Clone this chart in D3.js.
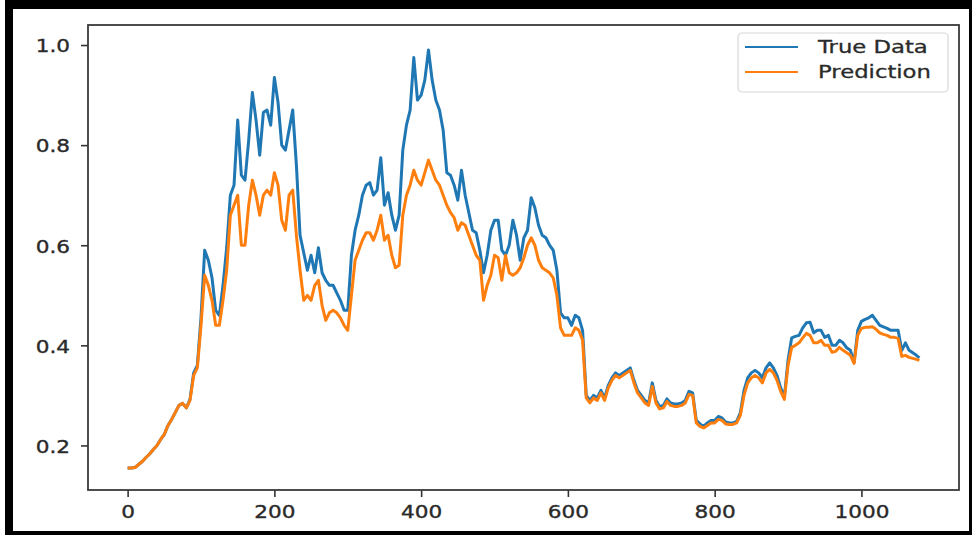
<!DOCTYPE html>
<html>
<head>
<meta charset="utf-8">
<script src="https://cdn.jsdelivr.net/npm/d3@7/dist/d3.min.js"></script>
<style>
  html, body { margin: 0; padding: 0; background: #fff; }
  svg { display: block; }
  text { font-family: "DejaVu Sans", sans-serif; }
</style>
</head>
<body>
<svg id="chart" width="972" height="535"></svg>
<script>
// ---- Data ----
const xIndex = d3.range(0, 1076, 5).concat([1079]);

const trueData = [
  0.155, 0.155, 0.156, 0.162, 0.168, 0.176, 0.183, 0.192, 0.200, 0.212,
  0.222, 0.240, 0.252, 0.266, 0.280, 0.284, 0.275, 0.292, 0.345, 0.360,
  0.455, 0.590, 0.570, 0.535, 0.470, 0.460, 0.520, 0.595, 0.700, 0.720,
  0.850, 0.740, 0.730, 0.810, 0.905, 0.850, 0.780, 0.865, 0.870, 0.840,
  0.935, 0.885, 0.800, 0.790, 0.830, 0.870, 0.760, 0.620, 0.585, 0.550,
  0.580, 0.545, 0.595, 0.545, 0.530, 0.520, 0.520, 0.505, 0.490, 0.470,
  0.470, 0.580, 0.630, 0.660, 0.700, 0.720, 0.725, 0.700, 0.710, 0.775,
  0.680, 0.705, 0.660, 0.630, 0.660, 0.790, 0.840, 0.870, 0.975, 0.890,
  0.900, 0.930, 0.990, 0.930, 0.890, 0.870, 0.830, 0.745, 0.740, 0.720,
  0.690, 0.750, 0.700, 0.665, 0.630, 0.625, 0.590, 0.545, 0.580, 0.630,
  0.650, 0.650, 0.590, 0.580, 0.600, 0.650, 0.620, 0.570, 0.615, 0.630,
  0.695, 0.675, 0.640, 0.620, 0.615, 0.600, 0.590, 0.550, 0.465, 0.455,
  0.455, 0.440, 0.460, 0.455, 0.430, 0.300, 0.290, 0.300, 0.295, 0.310,
  0.295, 0.320, 0.335, 0.345, 0.340, 0.345, 0.350, 0.355, 0.330, 0.310,
  0.300, 0.290, 0.285, 0.325, 0.290, 0.278, 0.280, 0.293, 0.285, 0.283,
  0.283, 0.285, 0.290, 0.308, 0.305, 0.250, 0.243, 0.238, 0.245, 0.250,
  0.250, 0.258, 0.255, 0.247, 0.245, 0.245, 0.248, 0.265, 0.310, 0.335,
  0.345, 0.350, 0.345, 0.335, 0.355, 0.365, 0.355, 0.340, 0.315, 0.297,
  0.370, 0.415, 0.418, 0.420, 0.435, 0.445, 0.446, 0.425, 0.430, 0.430,
  0.416, 0.420, 0.400, 0.400, 0.410, 0.405, 0.395, 0.390, 0.366, 0.430,
  0.448, 0.452, 0.455, 0.460, 0.450, 0.440, 0.437, 0.434, 0.430, 0.430,
  0.430, 0.390, 0.405, 0.390, 0.385, 0.380,
  0.375
];

const prediction = [
  0.155, 0.155, 0.156, 0.162, 0.168, 0.176, 0.183, 0.192, 0.200, 0.212,
  0.222, 0.240, 0.252, 0.266, 0.280, 0.284, 0.275, 0.290, 0.340, 0.355,
  0.440, 0.540, 0.520, 0.490, 0.440, 0.440, 0.490, 0.550, 0.660, 0.680,
  0.700, 0.600, 0.600, 0.680, 0.730, 0.700, 0.660, 0.700, 0.710, 0.700,
  0.745, 0.720, 0.650, 0.630, 0.700, 0.710, 0.620, 0.550, 0.490, 0.500,
  0.490, 0.520, 0.530, 0.480, 0.450, 0.465, 0.470, 0.465, 0.455, 0.440,
  0.430, 0.500, 0.570, 0.590, 0.610, 0.625, 0.625, 0.610, 0.630, 0.660,
  0.610, 0.620, 0.580, 0.555, 0.560, 0.660, 0.700, 0.720, 0.750, 0.730,
  0.720, 0.745, 0.770, 0.750, 0.730, 0.720, 0.700, 0.680, 0.665, 0.655,
  0.630, 0.645, 0.640, 0.620, 0.600, 0.580, 0.570, 0.490, 0.520, 0.540,
  0.580, 0.575, 0.530, 0.580, 0.545, 0.540, 0.545, 0.555, 0.575, 0.600,
  0.615, 0.600, 0.570, 0.555, 0.550, 0.545, 0.535, 0.500, 0.435, 0.420,
  0.420, 0.420, 0.435, 0.430, 0.410, 0.295, 0.285, 0.295, 0.290, 0.305,
  0.290, 0.315, 0.330, 0.340, 0.335, 0.340, 0.345, 0.350, 0.325, 0.305,
  0.295, 0.285, 0.280, 0.318, 0.285, 0.273, 0.275, 0.288, 0.280, 0.278,
  0.278, 0.280, 0.285, 0.302, 0.300, 0.245, 0.238, 0.235, 0.240, 0.245,
  0.245, 0.252, 0.250, 0.243, 0.242, 0.242, 0.245, 0.260, 0.300, 0.325,
  0.335, 0.340, 0.335, 0.325, 0.345, 0.352, 0.345, 0.330, 0.308, 0.292,
  0.360, 0.396, 0.400, 0.405, 0.415, 0.424, 0.420, 0.405, 0.405, 0.410,
  0.400, 0.400, 0.386, 0.388, 0.396, 0.390, 0.385, 0.380, 0.364, 0.420,
  0.434, 0.436, 0.436, 0.437, 0.432, 0.425, 0.422, 0.420, 0.416, 0.416,
  0.414, 0.378, 0.380, 0.376, 0.374, 0.372,
  0.370
];

const seriesNames = ["True Data", "Prediction"];
const seriesColors = ["#1f77b4", "#ff7f0e"];
const xTicks = [0, 200, 400, 600, 800, 1000];
const yTicks = [0.2, 0.4, 0.6, 0.8, 1.0];

// ---- Layout ----
const svg = d3.select("#chart");
const W = 972, H = 535;
const plot = { left: 88, right: 959, top: 25, bottom: 490 };
const textScaleX = 1.2;
const textColor = "#2a2a2a";

svg.append("rect").attr("x", 0).attr("y", 0).attr("width", W).attr("height", H).attr("fill", "#fff");

const x = d3.scaleLinear().domain([-54, 1133]).range([plot.left, plot.right]);
const y = d3.scaleLinear().domain([0.111, 1.04]).range([plot.bottom, plot.top]);

// lines
const series = [trueData, prediction];
const lineGen = d3.line()
  .x((d, i) => x(xIndex[i]))
  .y(d => y(d));

svg.append("clipPath").attr("id", "plotclip")
  .append("rect").attr("x", plot.left).attr("y", plot.top)
  .attr("width", plot.right - plot.left).attr("height", plot.bottom - plot.top);

const lines = svg.append("g").attr("clip-path", "url(#plotclip)");
series.forEach((s, k) => {
  lines.append("path")
    .datum(s)
    .attr("d", lineGen)
    .attr("fill", "none")
    .attr("stroke", seriesColors[k])
    .attr("stroke-width", 3)
    .attr("stroke-linejoin", "round");
});

// axes
const xAxis = svg.append("g")
  .attr("transform", `translate(0,${plot.bottom})`)
  .call(d3.axisBottom(x).tickValues(xTicks).tickSize(7).tickSizeOuter(0).tickFormat(d3.format("d")));
xAxis.select(".domain").remove();
xAxis.selectAll(".tick line").attr("stroke", "#333").attr("stroke-width", 1.6);
xAxis.selectAll(".tick text")
  .attr("y", 0).attr("dy", 0)
  .attr("transform", `translate(0,28) scale(${textScaleX},1)`)
  .attr("fill", textColor).attr("stroke", textColor).attr("stroke-width", 0.35)
  .attr("font-size", 18);

const yAxis = svg.append("g")
  .attr("transform", `translate(${plot.left},0)`)
  .call(d3.axisLeft(y).tickValues(yTicks).tickSize(7).tickSizeOuter(0).tickFormat(d3.format(".1f")));
yAxis.select(".domain").remove();
yAxis.selectAll(".tick line").attr("stroke", "#333").attr("stroke-width", 1.6);
yAxis.selectAll(".tick text")
  .attr("x", 0).attr("dy", "0.38em")
  .attr("transform", `translate(-18,0) scale(${textScaleX},1)`)
  .attr("fill", textColor).attr("stroke", textColor).attr("stroke-width", 0.35)
  .attr("font-size", 18);

// spines
svg.append("rect")
  .attr("x", plot.left).attr("y", plot.top)
  .attr("width", plot.right - plot.left).attr("height", plot.bottom - plot.top)
  .attr("fill", "none").attr("stroke", "#3a3a3a").attr("stroke-width", 1.8);

// legend
const lg = svg.append("g").attr("transform", "translate(738,33)");
lg.append("rect").attr("x", 0).attr("y", 0).attr("width", 210).attr("height", 59)
  .attr("rx", 4).attr("fill", "#fff").attr("stroke", "#d8d8d8").attr("stroke-width", 1.2);
seriesNames.forEach((name, k) => {
  const yy = 14 + k * 25;
  lg.append("line").attr("x1", 7).attr("x2", 60).attr("y1", yy).attr("y2", yy)
    .attr("stroke", seriesColors[k]).attr("stroke-width", 2.2);
  lg.append("text")
    .attr("transform", `translate(80,${yy}) scale(1.3,1)`)
    .attr("dy", "0.36em")
    .attr("font-size", 17.5).attr("fill", textColor)
    .attr("stroke", textColor).attr("stroke-width", 0.3)
    .text(name);
});

// black photo frame
svg.append("rect").attr("x", 5).attr("y", 0).attr("width", W - 5).attr("height", 9).attr("fill", "#000");
svg.append("rect").attr("x", 5).attr("y", 0).attr("width", 8).attr("height", H).attr("fill", "#000");
svg.append("rect").attr("x", 5).attr("y", 531).attr("width", W - 5).attr("height", 4).attr("fill", "#000");
svg.append("rect").attr("x", 969).attr("y", 0).attr("width", 3).attr("height", H).attr("fill", "#000");
</script>
</body>
</html>
